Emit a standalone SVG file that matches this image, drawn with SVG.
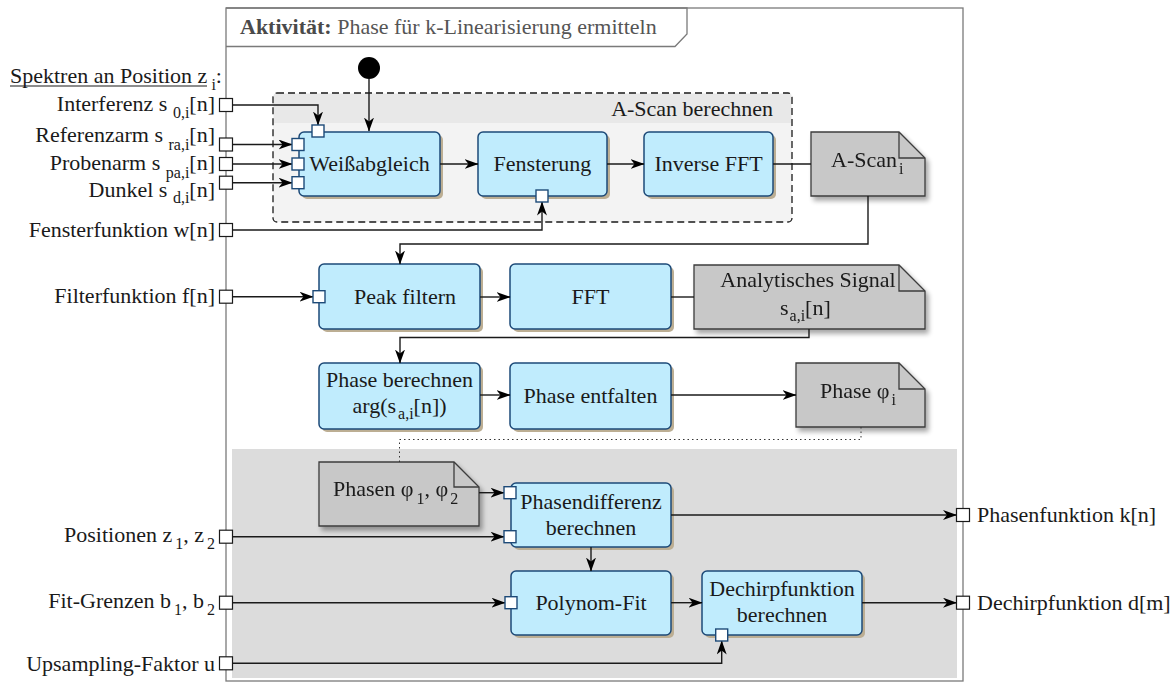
<svg xmlns="http://www.w3.org/2000/svg" width="1175" height="684" viewBox="0 0 1175 684">
  <style>
    text { font-family: "Liberation Serif", "Times New Roman", serif; font-size: 22px; fill: #1a1a1a; }
    .sub { font-size: 16px; }
    .lbl-l { text-anchor: end; }
    .mid { text-anchor: middle; }
    .title { fill: #555555; }
    .title-b { font-weight: bold; fill: #4a4a4a; }
    .frame { fill: #ffffff; stroke: #7a7a7a; stroke-width: 1.3; }
    .box { fill: #c0ecfd; stroke: #1d4a78; stroke-width: 1.5; }
    .shadow { fill: #bcae93; }
    .doc { fill: #c8c8c8; stroke: #3c3c3c; stroke-width: 1.3; }
    .fold { fill: none; stroke: #3c3c3c; stroke-width: 1.3; }
    .port { fill: #ffffff; stroke: #1a1a1a; stroke-width: 1.2; }
    .bport { fill: #ffffff; stroke: #1d4a78; stroke-width: 1.4; }
    .conn { fill: none; stroke: #1a1a1a; stroke-width: 1.4; }
    .arrow { marker-end: url(#arrowhead); }
    .dotted { fill: none; stroke: #333333; stroke-width: 1; stroke-dasharray: 1.5 3; }
  </style>
  <defs>
    <marker id="arrowhead" viewBox="0 0 14 10" refX="13.5" refY="5" markerWidth="14" markerHeight="10" markerUnits="userSpaceOnUse" orient="auto">
      <path d="M0,0 L14,5 L0,10 L4,5 z" fill="#000000"/>
    </marker>
    <filter id="docShadow" x="-10%" y="-10%" width="130%" height="140%">
      <feGaussianBlur in="SourceAlpha" stdDeviation="2.5"/>
      <feOffset dx="3" dy="4" result="off"/>
      <feComponentTransfer><feFuncA type="linear" slope="0.35"/></feComponentTransfer>
      <feMerge><feMergeNode/><feMergeNode in="SourceGraphic"/></feMerge>
    </filter>
  </defs>

  <!-- activity frame with title tab -->
  <g id="frame">
    <rect class="frame" x="226" y="8" width="737" height="673"/>
    <path d="M226,8 H687 V34 L675,46.5 H226" fill="none" stroke="#7a7a7a" stroke-width="1.3"/>
    <text x="240" y="34"><tspan class="title-b">Aktivität:</tspan><tspan class="title"> Phase für k-Linearisierung ermitteln</tspan></text>
  </g>

  <!-- shaded region for the per-pair evaluation -->
  <rect id="evalRegion" x="232" y="449" width="725" height="229" fill="#dcdcdc"/>

  <!-- A-Scan sub-activity -->
  <g id="ascanGroup">
    <rect x="273" y="93" width="519" height="129" rx="4" fill="#f3f3f3" stroke="#1a1a1a" stroke-width="1.3" stroke-dasharray="7 4"/>
    <rect x="274" y="94" width="517" height="29" fill="#e8e8e8"/>
    <text x="773" y="116" text-anchor="end">A-Scan berechnen</text>
  </g>

  <!-- input labels -->
  <g id="inputs">
    <text x="10" y="83">Spektren an Position z<tspan class="sub" dx="4" dy="7">i</tspan><tspan dy="-7">:</tspan></text>
    <line x1="10" y1="86" x2="207" y2="86" stroke="#1a1a1a" stroke-width="1.2"/>
    <text class="lbl-l" x="215" y="111">Interferenz s <tspan class="sub" dy="7">0,i</tspan><tspan dy="-7">[n]</tspan></text>
    <text class="lbl-l" x="215" y="142">Referenzarm s <tspan class="sub" dy="8">ra,i</tspan><tspan dy="-8">[n]</tspan></text>
    <text class="lbl-l" x="215" y="170">Probenarm s <tspan class="sub" dy="8">pa,i</tspan><tspan dy="-8">[n]</tspan></text>
    <text class="lbl-l" x="215" y="197">Dunkel s <tspan class="sub" dy="6">d,i</tspan><tspan dy="-6">[n]</tspan></text>
    <text class="lbl-l" x="215" y="237">Fensterfunktion w[n]</text>
    <text class="lbl-l" x="215" y="303">Filterfunktion f[n]</text>
    <text class="lbl-l" x="215" y="542">Positionen z<tspan class="sub" dx="3" dy="7">1</tspan><tspan dy="-7">, z</tspan><tspan class="sub" dx="3" dy="7">2</tspan></text>
    <text class="lbl-l" x="215" y="608">Fit-Grenzen b<tspan class="sub" dx="3" dy="7">1</tspan><tspan dy="-7">, b</tspan><tspan class="sub" dx="3" dy="7">2</tspan></text>
    <text class="lbl-l" x="215" y="671">Upsampling-Faktor u</text>
  </g>

  <!-- output labels -->
  <g id="outputs">
    <text x="977" y="522">Phasenfunktion k[n]</text>
    <text x="977" y="610">Dechirpfunktion d[m]</text>
  </g>

  <!-- initial node -->
  <g id="start">
    <circle cx="369" cy="68" r="11" fill="#000000"/>
  </g>

  <!-- actions -->
  <g id="weissabgleich">
    <rect class="shadow" x="302" y="135" width="141" height="64" rx="5"/>
    <rect class="box" x="299" y="132" width="141" height="64" rx="5"/>
    <text class="mid" x="369.5" y="171">Weißabgleich</text>
  </g>
  <g id="fensterung">
    <rect class="shadow" x="481" y="135" width="129" height="64" rx="5"/>
    <rect class="box" x="478" y="132" width="129" height="64" rx="5"/>
    <text class="mid" x="542.5" y="171">Fensterung</text>
  </g>
  <g id="inverseFFT">
    <rect class="shadow" x="647" y="135" width="129" height="64" rx="5"/>
    <rect class="box" x="644" y="132" width="129" height="64" rx="5"/>
    <text class="mid" x="708.5" y="171">Inverse FFT</text>
  </g>
  <g id="ascanDoc" filter="url(#docShadow)">
    <path class="doc" d="M811,132 H899 L925,158 V196 H811 Z"/>
    <path class="fold" d="M899,132 V158 H925"/>
    <text x="831" y="167">A-Scan<tspan class="sub" dx="2" dy="7">i</tspan></text>
  </g>

  <g id="peakFiltern">
    <rect class="shadow" x="322" y="267" width="161" height="65" rx="5"/>
    <rect class="box" x="319" y="264" width="161" height="65" rx="5"/>
    <text class="mid" x="405" y="304">Peak filtern</text>
  </g>
  <g id="fft">
    <rect class="shadow" x="513" y="267" width="161" height="65" rx="5"/>
    <rect class="box" x="510" y="264" width="161" height="65" rx="5"/>
    <text class="mid" x="590.5" y="304">FFT</text>
  </g>
  <g id="analytischDoc" filter="url(#docShadow)">
    <path class="doc" d="M694,265 H899 L925,291 V329 H694 Z"/>
    <path class="fold" d="M899,265 V291 H925"/>
    <text class="mid" x="808" y="287">Analytisches Signal</text>
    <text x="780" y="315">s<tspan class="sub" dx="1" dy="6">a,i</tspan><tspan dy="-6">[n]</tspan></text>
  </g>

  <g id="phaseBerechnen">
    <rect class="shadow" x="322" y="366" width="161" height="66" rx="5"/>
    <rect class="box" x="319" y="363" width="161" height="66" rx="5"/>
    <text class="mid" x="399.5" y="387">Phase berechnen</text>
    <text class="mid" x="399.5" y="413">arg(s<tspan class="sub" dx="2" dy="6">a,i</tspan><tspan dy="-6">[n])</tspan></text>
  </g>
  <g id="phaseEntfalten">
    <rect class="shadow" x="513" y="366" width="161" height="66" rx="5"/>
    <rect class="box" x="510" y="363" width="161" height="66" rx="5"/>
    <text class="mid" x="590.5" y="403">Phase entfalten</text>
  </g>
  <g id="phaseDoc" filter="url(#docShadow)">
    <path class="doc" d="M796,363 H899 L925,389 V427 H796 Z"/>
    <path class="fold" d="M899,363 V389 H925"/>
    <text x="820" y="398">Phase φ<tspan class="sub" dx="2" dy="7">i</tspan></text>
  </g>

  <g id="phasenDoc" filter="url(#docShadow)">
    <path class="doc" d="M319,462 H454 L479,487 V526 H319 Z"/>
    <path class="fold" d="M454,462 V487 H479"/>
    <text x="333" y="496">Phasen φ<tspan class="sub" dx="3" dy="8">1</tspan><tspan dy="-8">, φ</tspan><tspan class="sub" dx="2" dy="8">2</tspan></text>
  </g>
  <g id="phasendifferenz">
    <rect class="shadow" x="514" y="486" width="160" height="64" rx="5"/>
    <rect class="box" x="511" y="483" width="160" height="64" rx="5"/>
    <text class="mid" x="591" y="509">Phasendifferenz</text>
    <text class="mid" x="591" y="535">berechnen</text>
  </g>
  <g id="polynomFit">
    <rect class="shadow" x="514" y="574" width="160" height="64" rx="5"/>
    <rect class="box" x="511" y="571" width="160" height="64" rx="5"/>
    <text class="mid" x="591" y="610">Polynom-Fit</text>
  </g>
  <g id="dechirp">
    <rect class="shadow" x="705" y="574" width="160" height="64" rx="5"/>
    <rect class="box" x="702" y="571" width="160" height="64" rx="5"/>
    <text class="mid" x="782" y="596">Dechirpfunktion</text>
    <text class="mid" x="782" y="622">berechnen</text>
  </g>

  <!-- connectors -->
  <g id="connectors">
    <path class="conn arrow" d="M369,79 V131"/>
    <path class="conn arrow" d="M232,105 H318 V125"/>
    <path class="conn arrow" d="M232,144.5 H292"/>
    <path class="conn arrow" d="M232,164 H292"/>
    <path class="conn arrow" d="M232,182.7 H292"/>
    <path class="conn arrow" d="M440,164 H478"/>
    <path class="conn arrow" d="M607,164 H644"/>
    <path class="conn" d="M773,164 H811"/>
    <path class="conn arrow" d="M232,230 H542 V202"/>
    <path class="conn arrow" d="M868,196 V244 H400 V264"/>
    <path class="conn arrow" d="M232,296.7 H313"/>
    <path class="conn arrow" d="M480,297 H510"/>
    <path class="conn" d="M671,297 H694"/>
    <path class="conn arrow" d="M809,329 V337.5 H400 V363"/>
    <path class="conn arrow" d="M480,395 H510"/>
    <path class="conn arrow" d="M671,395 H796"/>
    <path class="dotted" d="M861,427 V439.5 H399.5 V462"/>
    <path class="conn arrow" d="M479,492.7 H504"/>
    <path class="conn arrow" d="M232,536.7 H504"/>
    <path class="conn arrow" d="M671,515 H956.5"/>
    <path class="conn arrow" d="M591,547 V571"/>
    <path class="conn arrow" d="M232,602.7 H505"/>
    <path class="conn arrow" d="M671,602.7 H702"/>
    <path class="conn arrow" d="M232,663.3 H721.7 V641"/>
    <path class="conn arrow" d="M862,602.7 H956.5"/>
  </g>

  <!-- pins on the frame -->
  <g id="framePins">
    <rect class="port" x="219.5" y="98.5" width="13" height="13"/>
    <rect class="port" x="219.5" y="138" width="13" height="13"/>
    <rect class="port" x="219.5" y="157.5" width="13" height="13"/>
    <rect class="port" x="219.5" y="176.2" width="13" height="13"/>
    <rect class="port" x="219.5" y="223.5" width="13" height="13"/>
    <rect class="port" x="219.5" y="290.2" width="13" height="13"/>
    <rect class="port" x="219.5" y="530.2" width="13" height="13"/>
    <rect class="port" x="219.5" y="596.2" width="13" height="13"/>
    <rect class="port" x="219.5" y="656.8" width="13" height="13"/>
    <rect class="port" x="956.5" y="508.5" width="13" height="13"/>
    <rect class="port" x="956.5" y="596.2" width="13" height="13"/>
  </g>

  <!-- pins on actions -->
  <g id="actionPins">
    <rect class="bport" x="292" y="138.5" width="12" height="12"/>
    <rect class="bport" x="292" y="158" width="12" height="12"/>
    <rect class="bport" x="292" y="176.7" width="12" height="12"/>
    <rect class="bport" x="312" y="125" width="12" height="12"/>
    <rect class="bport" x="536" y="190" width="12" height="12"/>
    <rect class="bport" x="313" y="290.7" width="12" height="12"/>
    <rect class="bport" x="504" y="486.7" width="12" height="12"/>
    <rect class="bport" x="504" y="530.7" width="12" height="12"/>
    <rect class="bport" x="505" y="596.7" width="12" height="12"/>
    <rect class="bport" x="715.7" y="629" width="12" height="12"/>
  </g>
</svg>
